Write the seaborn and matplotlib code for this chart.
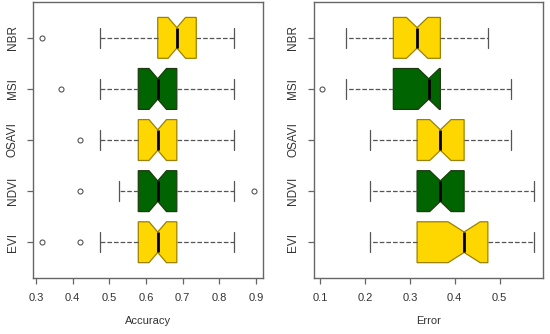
import numpy as np
import pandas as pd
import matplotlib.pyplot as plt
import seaborn as sns

# index names, top to bottom, and their box colours
indices = ['NBR', 'MSI', 'OSAVI', 'NDVI', 'EVI']
fills = ['#FFD700', '#006400', '#FFD700', '#006400', '#FFD700']

# accuracy values seen on the plot and how often each one occurs per index
acc_levels = [0.316, 0.368, 0.42, 0.475, 0.526, 0.579, 0.632, 0.684, 0.737, 0.789, 0.84, 0.895]
acc_nbr = [1, 0, 0, 2, 2, 3, 8, 12, 12, 5, 3, 0]
acc_msi = [0, 1, 0, 2, 5, 8, 12, 12, 4, 2, 2, 0]
acc_osavi = [0, 0, 1, 2, 5, 8, 12, 12, 4, 2, 2, 0]
acc_ndvi = [0, 0, 1, 0, 5, 9, 12, 12, 4, 2, 2, 1]
acc_evi = [1, 0, 1, 2, 4, 8, 12, 12, 4, 2, 2, 0]

# error values and counts per index
err_levels = [0.104, 0.158, 0.211, 0.263, 0.316, 0.368, 0.421, 0.474, 0.525, 0.578]
err_nbr = [0, 2, 5, 9, 12, 12, 5, 3, 0, 0]
err_msi = [1, 2, 5, 8, 8, 16, 4, 2, 2, 0]
err_osavi = [0, 0, 3, 5, 8, 12, 12, 5, 3, 0]
err_ndvi = [0, 0, 3, 5, 8, 12, 12, 5, 1, 2]
err_evi = [0, 0, 3, 5, 8, 7, 12, 8, 3, 2]

acc_ticks = [0.3, 0.4, 0.5, 0.6, 0.7, 0.8, 0.9]
err_ticks = [0.1, 0.2, 0.3, 0.4, 0.5]


def long_table(levels, counts_list):
    rows = []
    for name, counts in zip(indices, counts_list):
        for v in np.repeat(levels, counts):
            rows.append({'index': name, 'value': v})
    return pd.DataFrame(rows)


acc = long_table(acc_levels, [acc_nbr, acc_msi, acc_osavi, acc_ndvi, acc_evi])
err = long_table(err_levels, [err_nbr, err_msi, err_osavi, err_ndvi, err_evi])

sns.set_theme(style='white')
plt.rcParams['font.family'] = ['Liberation Sans', 'DejaVu Sans']

fig = plt.figure(figsize=(5.5, 3.34), dpi=100)
ax1 = fig.add_axes([0.0606, 0.1677, 0.417, 0.826])
ax2 = fig.add_axes([0.571, 0.1677, 0.417, 0.826])

edge_dark = {'#FFD700': '#9a8200', '#006400': '#1f3a10'}

for ax, df, label, ticks, lims in [
    (ax1, acc, 'Accuracy', acc_ticks, (0.293, 0.918)),
    (ax2, err, 'Error', err_ticks, (0.086, 0.598)),
]:
    sns.boxplot(data=df, x='value', y='index', hue='index', order=indices,
                hue_order=indices, palette=fills, saturation=1, legend=False,
                notch=True, width=0.8, linecolor='#555555', linewidth=0.9, ax=ax,
                whiskerprops=dict(linestyle='--', linewidth=0.9),
                medianprops=dict(color='black', linewidth=2),
                flierprops=dict(marker='o', markersize=3.6, markerfacecolor='none',
                                markeredgecolor='#555555', markeredgewidth=0.8))
    for p in ax.patches:
        fc = p.get_facecolor()
        hexc = '#%02X%02X%02X' % tuple(int(round(c * 255)) for c in fc[:3])
        p.set_edgecolor(edge_dark.get(hexc, '#333333'))
        p.set_linewidth(0.9)

    ax.set_xlim(*lims)
    ax.set_ylim(4.7, -0.7)
    ax.set_xticks(ticks)
    ax.set_xticklabels([f'{t:.1f}' for t in ticks])
    ax.set_yticks(range(len(indices)))
    ax.set_yticklabels(indices, rotation=90, va='center', fontsize=8.5)
    ax.set_ylabel('')
    ax.set_xlabel(label, fontsize=8, color='#333333', labelpad=10)
    ax.tick_params(axis='x', labelsize=8)
    ax.tick_params(direction='out', length=4.5, width=0.9, color='#666666',
                   labelcolor='#333333', pad=6, bottom=True, left=True)
    for s in ax.spines.values():
        s.set_visible(True)
        s.set_color('#666666')
        s.set_linewidth(1)

fig.savefig('out.png', dpi=100)
